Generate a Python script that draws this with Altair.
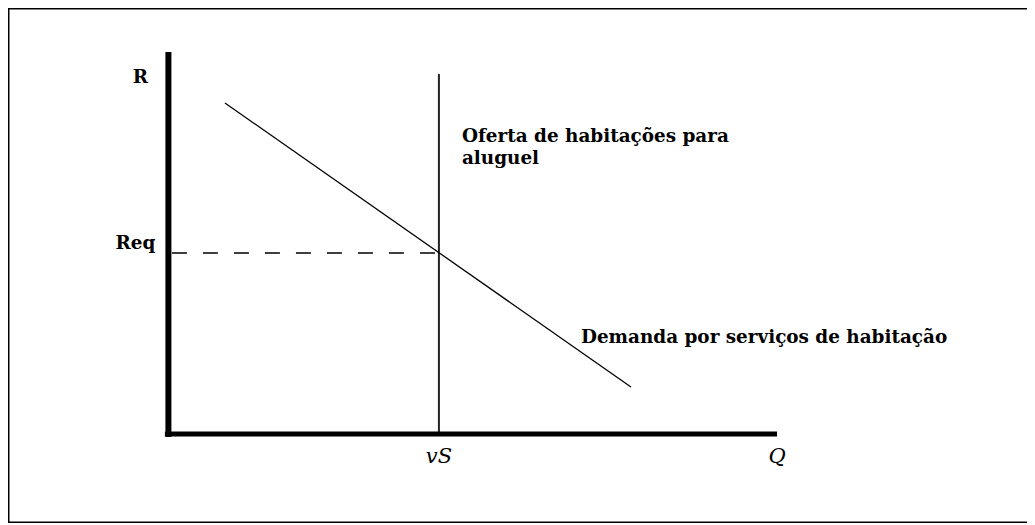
import altair as alt
import pandas as pd

# --- economic values (data units: Q horizontal, R vertical) ---
q_supply = 10.0            # vS : fixed supply of rental housing
r_eq = 7.24                # Req : equilibrium rent
demand_q = [2.09, 17.1]    # demand curve end points (Q)
demand_r = [13.24, 1.88]   # demand curve end points (R)
supply_r = [0.0, 14.4]     # vertical supply line extent
q_axis_end = 22.5
r_axis_end = 15.28

label_supply = ["Oferta de habitações para", "aluguel"]
label_demand = "Demanda por serviços de habitação"

W, H = 1019, 515

xs = alt.Scale(domain=[-5.93, 31.74], nice=False, zero=False)
ys = alt.Scale(domain=[-3.56, 17.04], nice=False, zero=False)

def X(f="q"):
    return alt.X(f, type="quantitative", scale=xs, axis=None)

def Y(f="r"):
    return alt.Y(f, type="quantitative", scale=ys, axis=None)

# frame (top, left, bottom; the right edge lies beyond the picture)
frame_top = alt.Chart(pd.DataFrame({"a": [0]})).mark_rule(color="black", strokeWidth=3).encode(
    x=alt.value(0), x2=alt.value(W), y=alt.value(0))
frame_left = alt.Chart(pd.DataFrame({"a": [0]})).mark_rule(color="black", strokeWidth=3).encode(
    x=alt.value(0), y=alt.value(0), y2=alt.value(H))
frame_bottom = alt.Chart(pd.DataFrame({"a": [0]})).mark_rule(color="black", strokeWidth=3).encode(
    x=alt.value(0), x2=alt.value(W), y=alt.value(H))

# axes
vaxis = alt.Chart(pd.DataFrame({"q": [0.0], "r": [-0.12], "r2": [r_axis_end]})).mark_rule(
    color="black", strokeWidth=6, strokeCap="butt"
).encode(x=X(), y=Y(), y2="r2")

haxis = alt.Chart(pd.DataFrame({"q": [-0.13], "q2": [q_axis_end], "r": [0.0]})).mark_rule(
    color="black", strokeWidth=5, strokeCap="butt"
).encode(x=X(), x2="q2", y=Y())

supply = alt.Chart(pd.DataFrame({"q": [q_supply], "r": [supply_r[0]], "r2": [supply_r[1]]})).mark_rule(
    color="#222222", strokeWidth=2
).encode(x=X(), y=Y(), y2="r2")

demand = alt.Chart(pd.DataFrame({"q": demand_q, "r": demand_r})).mark_line(
    color="black", strokeWidth=1.3
).encode(x=X(), y=Y())

dashed = alt.Chart(pd.DataFrame({"q": [0.13], "q2": [q_supply], "r": [r_eq]})).mark_rule(
    color="black", strokeWidth=1.5, strokeDash=[15, 16]
).encode(x=X(), x2="q2", y=Y())

font = "DejaVu Serif"
bsize = 18.4

lab_R = alt.Chart(pd.DataFrame({"q": [0.0], "r": [r_axis_end], "t": ["R"]})).mark_text(
    font=font, fontWeight="bold", fontSize=bsize, align="center", baseline="alphabetic", dx=-28, dy=31
).encode(x=X(), y=Y(), text="t:N")

lab_Req = alt.Chart(pd.DataFrame({"q": [0.0], "r": [r_eq], "t": ["Req"]})).mark_text(
    font=font, fontWeight="bold", fontSize=bsize, align="right", baseline="alphabetic", dx=-13, dy=-4
).encode(x=X(), y=Y(), text="t:N")

lab_vS = alt.Chart(pd.DataFrame({"q": [q_supply], "r": [0.0], "t": ["vS"]})).mark_text(
    font=font, fontStyle="italic", fontSize=21, align="center", baseline="alphabetic", dy=29
).encode(x=X(), y=Y(), text="t:N")

lab_Q = alt.Chart(pd.DataFrame({"q": [q_axis_end], "r": [0.0], "t": ["Q"]})).mark_text(
    font=font, fontStyle="italic", fontSize=21, align="center", baseline="alphabetic", dy=29
).encode(x=X(), y=Y(), text="t:N")

lab_sup = alt.Chart(pd.DataFrame({"q": [q_supply], "r": [11.68]})).mark_text(
    font=font, fontWeight="bold", fontSize=bsize, align="left", baseline="alphabetic",
    dx=23, lineHeight=22, text=label_supply
).encode(x=X(), y=Y())

lab_dem = alt.Chart(pd.DataFrame({"q": [15.25], "r": [3.64], "t": [label_demand]})).mark_text(
    font=font, fontWeight="bold", fontSize=bsize, align="left", baseline="alphabetic"
).encode(x=X(), y=Y(), text="t:N")

chart = alt.layer(
    frame_top, frame_left, frame_bottom,
    dashed, supply, demand, vaxis, haxis, lab_R, lab_Req, lab_vS, lab_Q, lab_sup, lab_dem
).properties(
    width=W, height=H,
    autosize=alt.AutoSizeParams(type="none"),
    padding=0,
    background="white",
).configure_view(stroke=None)

chart.save("out.html", embed_options={"renderer": "svg", "actions": False})
